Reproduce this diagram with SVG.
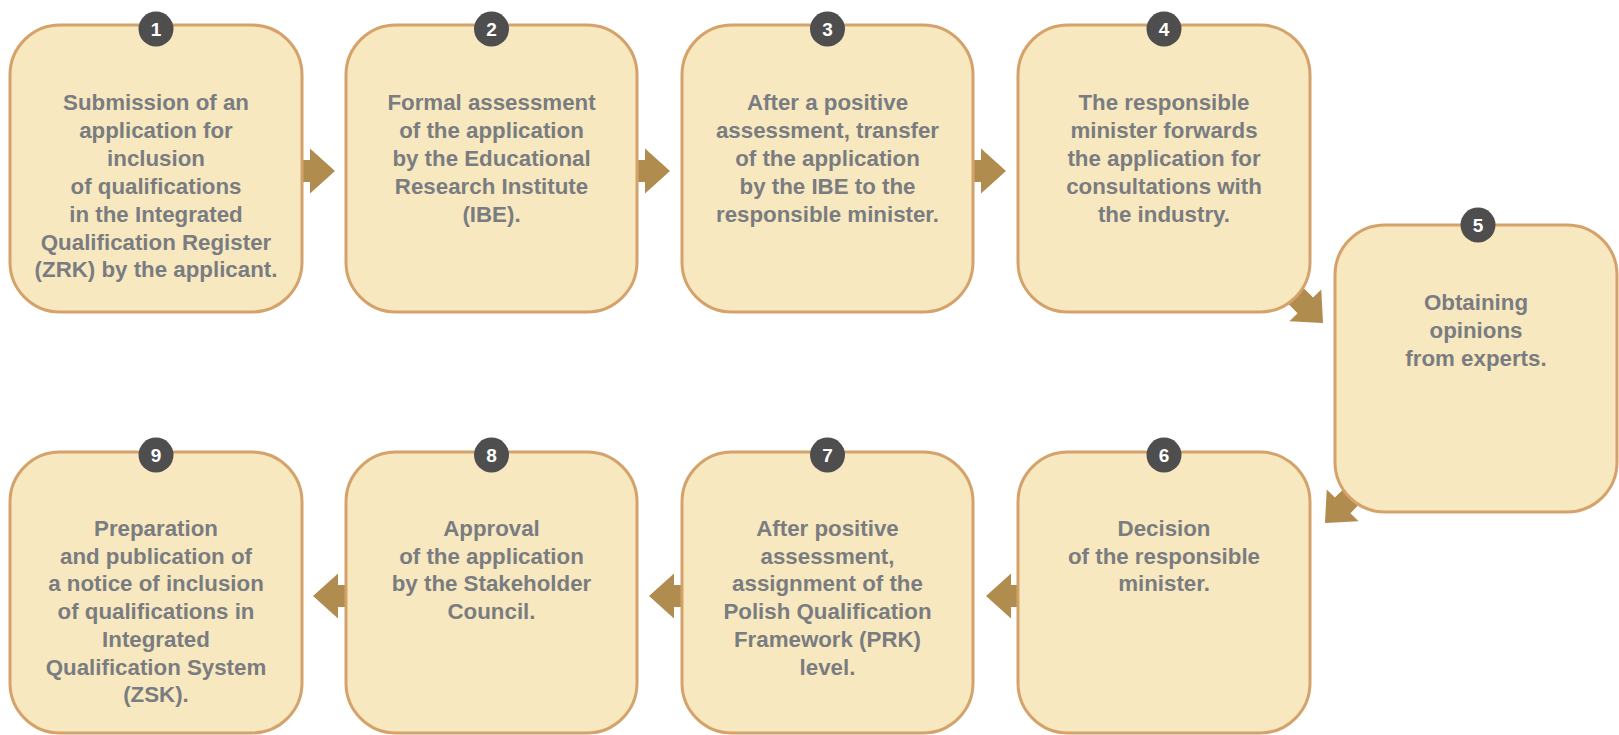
<svg xmlns="http://www.w3.org/2000/svg" xmlns:xlink="http://www.w3.org/1999/xlink" width="1619" height="735" viewBox="0 0 1619 735">
<style>
.box{fill:#f8e8bf;stroke:#d4a26a;stroke-width:3}
.badge{fill:#4e4e4e}
.num{font-family:"Liberation Sans",Arial,sans-serif;font-weight:bold;font-size:19px;fill:#ffffff;text-anchor:middle}
.lbl{font-family:"Liberation Sans",Arial,sans-serif;font-weight:bold;font-size:22.3px;fill:#797c80;text-anchor:middle}
.arr{fill:#b08c4e}
</style>
<defs>
<path id="arrow" d="M-6,-11 H8 V-22.5 L33,0 L8,22.5 V11 H-6 Z"/>
</defs>
<rect width="1619" height="735" fill="#ffffff"/>
<g id="connectors" class="arr">
<use xlink:href="#arrow" transform="translate(302,171)"/>
<use xlink:href="#arrow" transform="translate(637,171)"/>
<use xlink:href="#arrow" transform="translate(973,171)"/>
<use xlink:href="#arrow" transform="translate(1299.7,299.7) rotate(45)"/>
<use xlink:href="#arrow" transform="translate(1348.3,499.7) rotate(135)"/>
<use xlink:href="#arrow" transform="translate(1019,596) rotate(180)"/>
<use xlink:href="#arrow" transform="translate(682,596) rotate(180)"/>
<use xlink:href="#arrow" transform="translate(346,596) rotate(180)"/>
</g>
<g id="node1">
<rect class="box" x="10" y="25" width="292" height="287" rx="50"/>
<circle class="badge" cx="156" cy="29" r="17.5"/><text class="num" x="156" y="36">1</text>
<text class="lbl" x="156" y="110">Submission of an<tspan x="156" dy="27.9">application for</tspan><tspan x="156" dy="27.9">inclusion</tspan><tspan x="156" dy="27.9">of qualifications</tspan><tspan x="156" dy="27.9">in the Integrated</tspan><tspan x="156" dy="27.9">Qualification Register</tspan><tspan x="156" dy="27.9">(ZRK) by the applicant.</tspan></text>
</g>
<g id="node2">
<rect class="box" x="346" y="25" width="291" height="287" rx="50"/>
<circle class="badge" cx="491.5" cy="29" r="17.5"/><text class="num" x="491.5" y="36">2</text>
<text class="lbl" x="491.5" y="110">Formal assessment<tspan x="491.5" dy="27.9">of the application</tspan><tspan x="491.5" dy="27.9">by the Educational</tspan><tspan x="491.5" dy="27.9">Research Institute</tspan><tspan x="491.5" dy="27.9">(IBE).</tspan></text>
</g>
<g id="node3">
<rect class="box" x="682" y="25" width="291" height="287" rx="50"/>
<circle class="badge" cx="827.5" cy="29" r="17.5"/><text class="num" x="827.5" y="36">3</text>
<text class="lbl" x="827.5" y="110">After a positive<tspan x="827.5" dy="27.9">assessment, transfer</tspan><tspan x="827.5" dy="27.9">of the application</tspan><tspan x="827.5" dy="27.9">by the IBE to the</tspan><tspan x="827.5" dy="27.9">responsible minister.</tspan></text>
</g>
<g id="node4">
<rect class="box" x="1018" y="25" width="292" height="287" rx="50"/>
<circle class="badge" cx="1164" cy="29" r="17.5"/><text class="num" x="1164" y="36">4</text>
<text class="lbl" x="1164" y="110">The responsible<tspan x="1164" dy="27.9">minister forwards</tspan><tspan x="1164" dy="27.9">the application for</tspan><tspan x="1164" dy="27.9">consultations with</tspan><tspan x="1164" dy="27.9">the industry.</tspan></text>
</g>
<g id="node5">
<rect class="box" x="1335" y="225" width="282" height="287" rx="50"/>
<circle class="badge" cx="1478" cy="225" r="17.5"/><text class="num" x="1478" y="232">5</text>
<text class="lbl" x="1476" y="310">Obtaining<tspan x="1476" dy="27.9">opinions</tspan><tspan x="1476" dy="27.9">from experts.</tspan></text>
</g>
<g id="node6">
<rect class="box" x="1018" y="452" width="292" height="281" rx="50"/>
<circle class="badge" cx="1164" cy="455" r="17.5"/><text class="num" x="1164" y="462">6</text>
<text class="lbl" x="1164" y="536">Decision<tspan x="1164" dy="27.7">of the responsible</tspan><tspan x="1164" dy="27.7">minister.</tspan></text>
</g>
<g id="node7">
<rect class="box" x="682" y="452" width="291" height="281" rx="50"/>
<circle class="badge" cx="827.5" cy="455" r="17.5"/><text class="num" x="827.5" y="462">7</text>
<text class="lbl" x="827.5" y="536">After positive<tspan x="827.5" dy="27.7">assessment,</tspan><tspan x="827.5" dy="27.7">assignment of the</tspan><tspan x="827.5" dy="27.7">Polish Qualification</tspan><tspan x="827.5" dy="27.7">Framework (PRK)</tspan><tspan x="827.5" dy="27.7">level.</tspan></text>
</g>
<g id="node8">
<rect class="box" x="346" y="452" width="291" height="281" rx="50"/>
<circle class="badge" cx="491.5" cy="455" r="17.5"/><text class="num" x="491.5" y="462">8</text>
<text class="lbl" x="491.5" y="536">Approval<tspan x="491.5" dy="27.7">of the application</tspan><tspan x="491.5" dy="27.7">by the Stakeholder</tspan><tspan x="491.5" dy="27.7">Council.</tspan></text>
</g>
<g id="node9">
<rect class="box" x="10" y="452" width="292" height="281" rx="50"/>
<circle class="badge" cx="156" cy="455" r="17.5"/><text class="num" x="156" y="462">9</text>
<text class="lbl" x="156" y="536">Preparation<tspan x="156" dy="27.7">and publication of</tspan><tspan x="156" dy="27.7">a notice of inclusion</tspan><tspan x="156" dy="27.7">of qualifications in</tspan><tspan x="156" dy="27.7">Integrated</tspan><tspan x="156" dy="27.7">Qualification System</tspan><tspan x="156" dy="27.7">(ZSK).</tspan></text>
</g>
</svg>
